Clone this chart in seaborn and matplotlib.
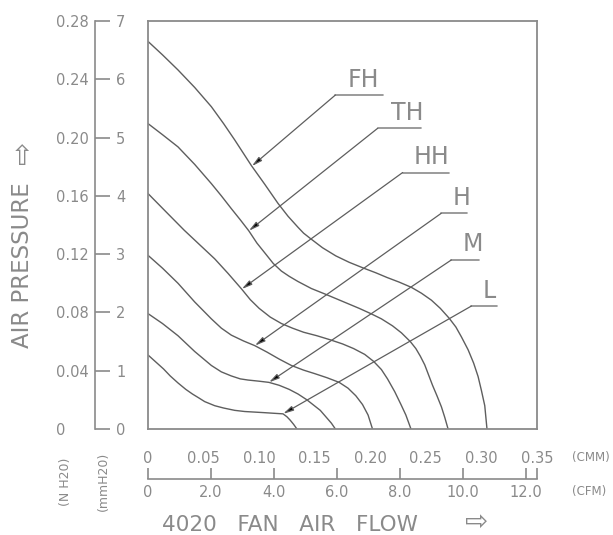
import numpy as np
import pandas as pd
import matplotlib
matplotlib.use('Agg')
import matplotlib.pyplot as plt
import seaborn as sns

# Fan curves for the 4020 fan.
# flow in CMM, static pressure in mmH2O
curve_names = ['FH', 'TH', 'HH', 'H', 'M', 'L']

fh_flow = [0, 0.013, 0.027, 0.042, 0.057, 0.068, 0.078, 0.093, 0.105, 0.117,
           0.126, 0.135, 0.140, 0.146, 0.157, 0.169, 0.181, 0.194, 0.205, 0.215,
           0.226, 0.237, 0.246, 0.255, 0.263, 0.271, 0.277, 0.282, 0.288, 0.293,
           0.297, 0.300, 0.303, 0.304, 0.305]
fh_press = [6.65, 6.42, 6.16, 5.86, 5.53, 5.24, 4.96, 4.52, 4.20, 3.87,
            3.65, 3.46, 3.36, 3.27, 3.11, 2.97, 2.86, 2.76, 2.68, 2.60,
            2.52, 2.43, 2.33, 2.21, 2.07, 1.90, 1.75, 1.58, 1.36, 1.13,
            0.90, 0.66, 0.40, 0.20, 0]

th_flow = [0, 0.013, 0.027, 0.042, 0.057, 0.066, 0.075, 0.083, 0.0907, 0.098,
           0.106, 0.1127, 0.120, 0.127, 0.135, 0.147, 0.160, 0.170, 0.180, 0.190,
           0.2004, 0.210, 0.220, 0.228, 0.236, 0.241, 0.245, 0.249, 0.252, 0.256,
           0.260, 0.264, 0.267, 0.270]
th_press = [5.24, 5.05, 4.84, 4.54, 4.21, 4.00, 3.78, 3.59, 3.40, 3.19,
            3.00, 2.84, 2.71, 2.62, 2.53, 2.41, 2.31, 2.23, 2.15, 2.07,
            1.98, 1.89, 1.77, 1.65, 1.50, 1.38, 1.25, 1.10, 0.95, 0.75,
            0.57, 0.38, 0.20, 0]

hh_flow = [0, 0.016, 0.0326, 0.046, 0.060, 0.072, 0.0843, 0.092, 0.100, 0.110,
           0.120, 0.130, 0.140, 0.152, 0.164, 0.175, 0.185, 0.195, 0.203, 0.210,
           0.2155, 0.222, 0.2276, 0.232, 0.2366]
hh_press = [4.04, 3.73, 3.41, 3.17, 2.92, 2.67, 2.40, 2.22, 2.07, 1.92,
            1.81, 1.73, 1.66, 1.60, 1.53, 1.46, 1.38, 1.28, 1.16, 1.02,
            0.86, 0.64, 0.42, 0.24, 0]

h_flow = [0, 0.013, 0.027, 0.042, 0.057, 0.066, 0.075, 0.086, 0.0961, 0.107,
          0.118, 0.129, 0.140, 0.150, 0.161, 0.172, 0.180, 0.187, 0.193, 0.198,
          0.202]
h_press = [2.98, 2.76, 2.50, 2.18, 1.89, 1.73, 1.61, 1.51, 1.43, 1.32,
           1.20, 1.09, 1.01, 0.95, 0.88, 0.80, 0.70, 0.57, 0.42, 0.24,
           0]

m_flow = [0, 0.013, 0.027, 0.042, 0.057, 0.066, 0.075, 0.083, 0.090, 0.100,
          0.1088, 0.118, 0.127, 0.135, 0.143, 0.149, 0.155, 0.160, 0.165, 0.1686]
m_press = [1.98, 1.81, 1.60, 1.33, 1.09, 0.98, 0.91, 0.86, 0.84, 0.82,
           0.80, 0.75, 0.68, 0.60, 0.50, 0.41, 0.32, 0.21, 0.10, 0]

l_flow = [0, 0.007, 0.014, 0.020, 0.027, 0.034, 0.040, 0.046, 0.051, 0.060,
          0.068, 0.078, 0.087, 0.096, 0.105, 0.113, 0.1215, 0.125, 0.128, 0.131,
          0.134]
l_press = [1.27, 1.15, 1.03, 0.91, 0.79, 0.68, 0.60, 0.53, 0.47, 0.40,
           0.36, 0.32, 0.30, 0.29, 0.28, 0.27, 0.26, 0.21, 0.15, 0.08,
           0]

# where each leader arrow touches its curve (CMM)
tip_flow = [0.0934, 0.0907, 0.0843, 0.0961, 0.1088, 0.1215]

# axis scales
cmm_ticks = [0, 0.05, 0.10, 0.15, 0.20, 0.25, 0.30, 0.35]
cmm_labels = ['0', '0.05', '0.10', '0.15', '0.20', '0.25', '0.30', '0.35']
cfm_ticks = [0, 2, 4, 6, 8, 10, 12]
cfm_labels = ['0', '2.0', '4.0', '6.0', '8.0', '10.0', '12.0']
mm_ticks = [0, 1, 2, 3, 4, 5, 6, 7]
inch_ticks = [0, 0.04, 0.08, 0.12, 0.16, 0.20, 0.24, 0.28]
inch_labels = ['0', '0.04', '0.08', '0.12', '0.16', '0.20', '0.24', '0.28']

CFM_PER_CMM = 35.31
INCH_PER_MM = 0.04

# leader layout: elbow of each leader and the end of its shelf (data coords)
elbow_flow = [0.1686, 0.2067, 0.2291, 0.2638, 0.2729, 0.2910]
elbow_press = [5.73, 5.16, 4.40, 3.70, 2.90, 2.11]
shelf_end = [0.211, 0.2457, 0.2711, 0.2874, 0.2982, 0.3137]
label_flow = [0.1795, 0.2185, 0.2393, 0.2738, 0.2829, 0.3010]

GRAY = '#8a8a8a'
LINE = '#5e5e5e'

sns.set_theme(style='white')
plt.rcParams['font.family'] = ['DejaVu Sans']

flows = [fh_flow, th_flow, hh_flow, h_flow, m_flow, l_flow]
presses = [fh_press, th_press, hh_press, h_press, m_press, l_press]
df = pd.concat([pd.DataFrame({'curve': n, 'flow': f, 'pressure': p})
                for n, f, p in zip(curve_names, flows, presses)], ignore_index=True)

fig = plt.figure(figsize=(6.13, 5.35), dpi=100)
ax = fig.add_axes([148 / 613, 1 - 429 / 535, 389 / 613, 408 / 535])

sns.lineplot(data=df, x='flow', y='pressure', hue='curve', units='curve',
             estimator=None, sort=False, palette={n: LINE for n in curve_names},
             linewidth=1.0, legend=False, ax=ax)

ax.set_xlim(0, 0.35)
ax.set_ylim(0, 7)
ax.set_xlabel('')
ax.set_ylabel('')
for s in ax.spines.values():
    s.set_color(GRAY)
    s.set_linewidth(1.3)

ax.set_xticks(cmm_ticks, cmm_labels)
ax.tick_params(axis='x', direction='out', length=9.5, width=1.2, colors=GRAY,
               pad=6.5, labelsize=10.5)
ax.set_yticks(mm_ticks, [str(v) for v in mm_ticks])
ax.tick_params(axis='y', direction='out', length=10.8, width=1.2, colors=GRAY,
               pad=5.5, labelsize=10.5)
# the end ticks sit on the frame corners and have no tick mark
for ticks in (ax.xaxis.get_major_ticks(), ax.yaxis.get_major_ticks()):
    ticks[0].tick1line.set_visible(False)
    ticks[-1].tick1line.set_visible(False)

# inch H2O scale on its own line left of the frame
sec_y = ax.secondary_yaxis(-53 / 389, functions=(lambda v: v * INCH_PER_MM,
                                                 lambda v: v / INCH_PER_MM))
sec_y.set_yticks(inch_ticks, inch_labels)
sec_y.tick_params(direction='in', length=10.8, width=1.2, colors=GRAY,
                  pad=28, labelsize=10.5)
sec_y.spines['left'].set_color(GRAY)
sec_y.spines['left'].set_linewidth(1.2)
for lbl in sec_y.get_yticklabels():
    lbl.set_horizontalalignment('left')

# CFM scale on its own line under the CMM labels
sec_x = ax.secondary_xaxis(-50 / 408, functions=(lambda v: v * CFM_PER_CMM,
                                                 lambda v: v / CFM_PER_CMM))
sec_x.set_xticks(cfm_ticks + [0.35 * CFM_PER_CMM], cfm_labels + [''])
sec_x.tick_params(direction='in', length=8, width=1.2, colors=GRAY,
                  pad=4.5, labelsize=10.5)
sec_x.spines['bottom'].set_color(GRAY)
sec_x.spines['bottom'].set_linewidth(1.2)

# leaders with labels
for i, name in enumerate(curve_names):
    tip_y = np.interp(tip_flow[i], flows[i], presses[i])
    ax.annotate('', xy=(tip_flow[i], tip_y), xytext=(elbow_flow[i], elbow_press[i]),
                arrowprops=dict(arrowstyle='-|>,head_length=0.5,head_width=0.12',
                                lw=0.9, ec=LINE, fc='black', shrinkA=0, shrinkB=0))
    ax.plot([elbow_flow[i], shelf_end[i]], [elbow_press[i], elbow_press[i]],
            color=GRAY, lw=1.2)
    ax.text(label_flow[i], elbow_press[i] + 0.06, name, ha='left', va='bottom',
            fontsize=17, color=GRAY)

# unit tags and axis titles
fig.text(572 / 613, 1 - 458 / 535, '(CMM)', fontsize=8.5, color=GRAY, va='center')
fig.text(572 / 613, 1 - 492 / 535, '(CFM)', fontsize=8.5, color=GRAY, va='center')
fig.text(66 / 613, 1 - 482 / 535, '(N H20)', fontsize=9, color=GRAY,
         rotation=90, ha='center', va='center')
fig.text(103 / 613, 1 - 481 / 535, '(mmH20)', fontsize=9, color=GRAY,
         rotation=90, ha='center', va='center')
fig.text(23 / 613, 1 - 265 / 535, 'AIR PRESSURE', fontsize=16.5, color=GRAY,
         rotation=90, ha='center', va='center')
fig.text(23 / 613, 1 - 152 / 535, '\u21e8', fontsize=20, color=GRAY,
         rotation=90, ha='center', va='center')
fig.text(162 / 613, 1 - 525 / 535, '4020   FAN   AIR   FLOW', fontsize=15.5,
         color=GRAY, ha='left', va='center')
fig.text(477 / 613, 1 - 522 / 535, '\u21e8', fontsize=20, color=GRAY,
         ha='center', va='center')

fig.savefig('out.png', dpi=100)
